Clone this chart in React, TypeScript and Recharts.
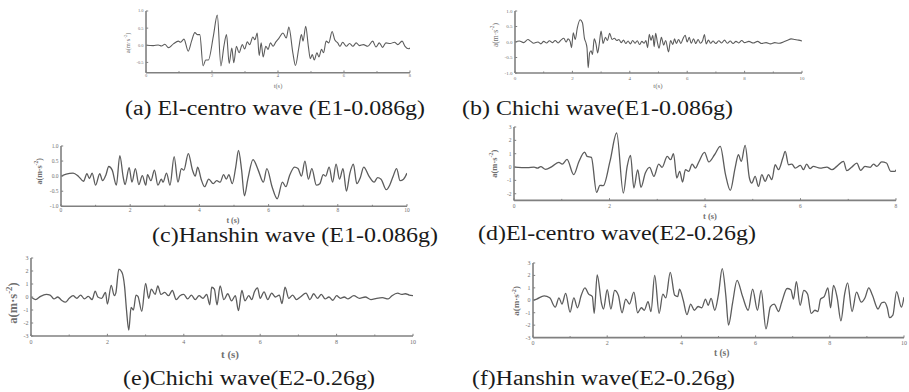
import React from 'react';
import { LineChart, Line, XAxis, YAxis, Label } from 'recharts';

// ---------- data: [time (s), acceleration (m/s^2)] ----------
const elCentroE1: [number, number][] = [
  [0, 0], [0.22, -0.01], [0.37, 0.01], [0.47, -0.02], [0.57, 0.03], [0.68, -0.07], [0.83, 0.04], [0.98, 0.12],
  [1.05, 0.09], [1.15, 0.18], [1.28, -0.17], [1.38, 0.12], [1.48, 0.37], [1.56, 0.31], [1.63, 0.31], [1.73, -0.6],
  [1.81, -0.43], [1.89, -0.43], [2.04, 0.26], [2.16, 0.88], [2.27, -0.6], [2.36, -0.03], [2.44, 0.31], [2.52, -0.53],
  [2.6, -0.08], [2.66, -0.51], [2.74, -0.03], [2.82, -0.22], [2.92, 0.02], [2.99, -0.11], [3.07, 0.1], [3.14, 0.02],
  [3.24, 0.24], [3.3, 0.16], [3.37, 0.36], [3.43, -0.3], [3.49, 0.07], [3.55, -0.34], [3.63, -0.03], [3.7, -0.12],
  [3.77, 0.07], [3.85, -0.03], [3.93, 0.09], [4.03, 0.21], [4.15, 0.36], [4.25, 0.21], [4.33, 0.53], [4.45, -0.22],
  [4.53, -0.59], [4.63, -0.08], [4.71, 0.31], [4.76, 0.12], [4.84, 0.55], [4.92, -0.03], [4.98, -0.39], [5.04, -0.27],
  [5.1, -0.43], [5.18, -0.22], [5.24, -0.34], [5.32, -0.12], [5.38, -0.22], [5.46, 0.12], [5.54, 0.07], [5.64, 0.4],
  [5.72, 0.16], [5.81, 0.07], [5.88, -0.03], [5.96, 0.09], [6.07, -0.03], [6.17, 0.05], [6.27, -0.03], [6.37, 0.07],
  [6.47, -0.01], [6.59, 0.02], [6.72, -0.03], [6.87, 0.12], [6.97, -0.05], [7.07, 0.07], [7.17, -0.06], [7.27, 0.07],
  [7.4, 0.05], [7.53, 0.09], [7.63, 0.02], [7.76, 0.12], [7.85, -0.03], [7.96, -0.1], [8.0, -0.08],
];

const chichiE1: [number, number][] = [
  [0, 0], [0.15, 0.03], [0.3, -0.02], [0.45, 0.08], [0.55, 0.02], [0.65, -0.04], [0.8, 0], [0.9, -0.06], [1.0, 0.02],
  [1.1, -0.03], [1.2, 0.04], [1.3, -0.02], [1.4, 0.05], [1.5, -0.03], [1.6, 0.06], [1.7, 0.12], [1.78, 0], [1.85, 0.1],
  [1.92, 0.02], [1.97, -0.18], [2.03, 0.3], [2.1, 0.08], [2.17, 0.45], [2.27, 0.72], [2.35, 0.62], [2.42, 0.12],
  [2.48, -0.05], [2.51, -0.2], [2.55, -0.83], [2.6, -0.35], [2.65, -0.28], [2.7, -0.4], [2.76, 0.1], [2.82, -0.05],
  [2.88, -0.35], [2.93, -0.1], [3.0, 0.35], [3.07, -0.05], [3.15, 0.15], [3.22, 0.05], [3.3, 0.28], [3.38, 0.08],
  [3.46, 0.12], [3.55, 0.05], [3.62, 0.08], [3.7, -0.02], [3.78, 0.06], [3.86, -0.05], [3.94, 0.03], [4.02, -0.06],
  [4.1, 0.05], [4.18, -0.04], [4.26, 0.04], [4.34, -0.08], [4.42, 0.02], [4.5, -0.04], [4.56, 0.05], [4.62, -0.18],
  [4.68, 0.25], [4.74, 0.05], [4.8, 0.22], [4.85, -0.15], [4.9, 0.28], [4.96, 0], [5.02, -0.2], [5.1, 0.15],
  [5.18, -0.1], [5.25, 0.05], [5.35, -0.32], [5.42, 0.05], [5.5, -0.08], [5.56, 0.1], [5.62, -0.05], [5.7, 0.08],
  [5.78, -0.05], [5.85, 0.1], [5.93, 0.22], [6.0, 0], [6.07, 0.15], [6.14, -0.04], [6.22, 0.1], [6.3, -0.05],
  [6.38, 0.08], [6.46, -0.04], [6.54, 0.05], [6.6, 0.24], [6.66, -0.06], [6.74, 0.06], [6.82, -0.04], [6.9, 0.03],
  [7.0, -0.05], [7.1, 0.04], [7.2, -0.03], [7.3, 0.06], [7.4, -0.04], [7.5, 0.03], [7.6, -0.05], [7.7, 0.02],
  [7.8, -0.03], [7.9, 0.05], [8.0, -0.02], [8.15, 0.02], [8.3, -0.03], [8.45, 0.02], [8.6, -0.05], [8.75, -0.02],
  [8.9, -0.06], [9.05, -0.02], [9.2, -0.04], [9.35, 0], [9.5, 0.06], [9.62, 0.1], [9.75, 0.08], [9.88, 0.06], [10, 0.03],
];

const hanshinE1: [number, number][] = [
  [0, 0], [0.15, 0.07], [0.35, 0.1], [0.5, 0], [0.65, -0.17], [0.75, 0.08], [0.82, -0.08], [0.9, 0.1], [1.0, -0.3],
  [1.12, 0.08], [1.2, -0.15], [1.3, 0.05], [1.38, 0.32], [1.48, 0.2], [1.6, -0.3], [1.7, 0.68], [1.8, -0.05],
  [1.85, -0.28], [1.97, 0.28], [2.05, -0.2], [2.15, 0.25], [2.25, -0.28], [2.35, 0.02], [2.45, -0.3], [2.5, 0.05],
  [2.6, -0.15], [2.7, 0.2], [2.8, -0.3], [2.9, -0.1], [2.95, -0.2], [3.05, 0.1], [3.15, -0.3], [3.27, 0.65],
  [3.38, -0.2], [3.48, 0.25], [3.55, 0.2], [3.68, 0.75], [3.8, 0.2], [3.88, 0], [3.95, 0.3], [4.05, -0.1],
  [4.15, -0.35], [4.27, -0.1], [4.4, -0.25], [4.5, -0.15], [4.6, -0.2], [4.7, 0.05], [4.78, -0.1], [4.85, 0.05],
  [4.95, -0.25], [5.05, 0.3], [5.13, 0.85], [5.22, 0.2], [5.3, -0.65], [5.4, -0.1], [5.55, 0.55], [5.7, 0.2],
  [5.85, -0.2], [5.95, 0.25], [6.1, -0.35], [6.25, -0.75], [6.4, -0.2], [6.5, -0.35], [6.6, 0], [6.75, 0.3],
  [6.85, 0.25], [6.95, 0], [7.05, 0.5], [7.15, -0.1], [7.25, 0.25], [7.38, -0.3], [7.48, -0.25], [7.58, 0.05],
  [7.65, 0], [7.75, 0.3], [7.85, -0.2], [7.95, 0.4], [8.05, -0.1], [8.15, 0.25], [8.25, -0.5], [8.35, 0.1],
  [8.45, 0.4], [8.55, -0.25], [8.65, -0.05], [8.75, 0.3], [8.9, 0], [9.05, -0.2], [9.15, -0.05], [9.25, -0.1],
  [9.4, -0.45], [9.5, -0.3], [9.6, 0], [9.7, 0.25], [9.8, -0.15], [9.9, -0.1], [10, 0.1],
];

const elCentroE2: [number, number][] = [
  [0, 0], [0.28, -0.05], [0.42, 0], [0.49, -0.08], [0.56, 0.03], [0.66, -0.17], [0.8, 0.05], [0.94, 0.35],
  [1.01, 0.22], [1.11, 0.57], [1.25, -0.57], [1.36, 0.42], [1.48, 1.12], [1.53, 0.8], [1.62, 0.72], [1.73, -1.9],
  [1.8, -1.37], [1.87, -1.4], [2.01, 0.42], [2.15, 2.55], [2.29, -1.95], [2.37, 0.05], [2.44, 0.87], [2.51, -1.57],
  [2.59, -0.22], [2.66, -1.52], [2.75, -0.45], [2.84, -0.02], [2.93, -0.7], [3.03, 0.22], [3.1, -0.02], [3.21, 0.8],
  [3.28, 0.55], [3.34, 1.0], [3.41, -0.82], [3.47, -0.32], [3.53, -1.12], [3.59, -0.2], [3.66, -0.32], [3.73, 0.22],
  [3.8, -0.08], [3.87, 0.38], [3.99, 1.1], [4.08, 0.38], [4.2, 0.92], [4.32, 1.55], [4.43, -0.57], [4.53, -1.75],
  [4.63, -0.08], [4.7, 0.92], [4.76, 0.42], [4.84, 1.62], [4.93, -0.82], [4.98, -1.2], [5.05, -0.7], [5.12, -1.45],
  [5.19, -0.57], [5.26, -1.07], [5.33, -0.57], [5.4, -0.95], [5.47, 0.17], [5.54, -0.2], [5.63, 0.67], [5.68, 1.17],
  [5.75, 0.17], [5.82, 0.22], [5.89, -0.08], [6.0, 0.12], [6.06, -0.2], [6.13, 0.22], [6.2, -0.12], [6.27, 0.05],
  [6.41, -0.08], [6.55, 0], [6.66, -0.2], [6.76, 0.05], [6.9, 0.42], [6.97, -0.27], [7.07, -0.02], [7.18, 0.3],
  [7.26, -0.25], [7.35, 0.05], [7.46, -0.02], [7.53, 0.22], [7.6, 0.05], [7.7, 0.38], [7.8, 0.3], [7.89, -0.32],
  [7.98, -0.32], [8.0, -0.2],
];

const chichiE2: [number, number][] = [
  [0, 0], [0.12, -0.2], [0.25, 0.05], [0.4, 0.2], [0.5, 0.15], [0.6, -0.15], [0.7, 0], [0.8, -0.25], [0.9, -0.4],
  [1.0, -0.1], [1.1, 0.1], [1.2, -0.1], [1.3, 0.15], [1.4, -0.15], [1.5, 0.05], [1.6, -0.2], [1.68, 0.45], [1.75, 0],
  [1.85, -0.1], [1.95, 0.35], [2.0, -0.55], [2.1, 0.9], [2.18, 0.1], [2.22, 0.3], [2.3, 2.15], [2.38, 1.9],
  [2.45, 0.8], [2.5, -1.0], [2.56, -2.55], [2.62, -0.8], [2.68, -1.0], [2.75, 0.15], [2.8, 0.05], [2.9, -1.1],
  [3.0, 1.05], [3.08, -0.1], [3.15, 0.6], [3.25, 0.2], [3.32, 0.85], [3.4, 0.2], [3.5, 0.35], [3.6, 0.1], [3.7, 0.5],
  [3.8, -0.2], [3.9, 0.1], [4.0, 0.2], [4.1, -0.15], [4.2, 0.15], [4.3, -0.2], [4.4, 0.1], [4.5, -0.1], [4.6, 0.2],
  [4.68, -0.6], [4.73, 0.75], [4.8, 0.6], [4.87, -0.6], [4.95, 0.85], [5.05, -0.2], [5.15, 0.25], [5.25, -0.3],
  [5.35, 0.1], [5.43, -1.05], [5.52, 0.5], [5.6, -0.3], [5.7, 0.1], [5.78, -0.2], [5.85, 0.4], [5.93, 0.7],
  [6.0, -0.1], [6.1, 0.4], [6.2, -0.2], [6.3, 0.3], [6.4, 0], [6.5, 0.15], [6.57, -0.5], [6.65, 0.75], [6.75, -0.1],
  [6.85, 0.15], [6.95, -0.2], [7.05, 0], [7.2, 0.3], [7.3, -0.2], [7.4, 0.25], [7.5, -0.1], [7.6, 0.2], [7.7, -0.15],
  [7.8, 0], [7.9, -0.25], [8.0, 0.1], [8.1, -0.1], [8.2, 0], [8.3, -0.15], [8.45, 0.1], [8.6, -0.1], [8.75, 0],
  [8.9, -0.2], [9.05, -0.1], [9.2, -0.05], [9.35, -0.15], [9.45, 0.1], [9.6, 0.3], [9.7, 0.2], [9.8, 0.25],
  [9.9, 0.15], [10, 0.1],
];

const hanshinE2: [number, number][] = [
  [0, 0], [0.1, 0.1], [0.3, 0.35], [0.45, 0.2], [0.6, -0.55], [0.7, 0.2], [0.78, -0.3], [0.88, 0.55], [1.0, -0.95],
  [1.1, 0.2], [1.2, -0.6], [1.3, 0.4], [1.4, 1.0], [1.5, 0.5], [1.6, 0.3], [1.65, -1.05], [1.73, 2.05], [1.85, -0.3],
  [1.9, -0.7], [2.0, 0.85], [2.1, -0.7], [2.2, 0.8], [2.3, 0.4], [2.4, -1.0], [2.5, 0.1], [2.6, -0.3], [2.72, 0.65],
  [2.82, -1.0], [2.92, -0.6], [3.0, -0.8], [3.1, -0.1], [3.18, -0.9], [3.28, 2.0], [3.4, -1.05], [3.5, 0.5],
  [3.58, 0.2], [3.7, 2.25], [3.82, 0.4], [3.9, 0.3], [3.95, 0.9], [4.05, 0], [4.15, -1.15], [4.25, -0.3],
  [4.35, -0.8], [4.45, -0.5], [4.55, -0.6], [4.65, 0.1], [4.72, -0.4], [4.8, 0.15], [4.9, -0.8], [5.0, 0.5],
  [5.1, 2.55], [5.2, 0.3], [5.27, -2.0], [5.38, -0.2], [5.5, 1.6], [5.65, 0.3], [5.8, -0.8], [5.92, 0.9],
  [6.05, -0.8], [6.15, 0.8], [6.28, -2.3], [6.4, -0.5], [6.5, -0.3], [6.62, -0.9], [6.7, -0.2], [6.85, 0.95],
  [6.95, 0.85], [7.02, 0.1], [7.1, 1.5], [7.2, -0.4], [7.3, 0.8], [7.4, 0.5], [7.5, -1.05], [7.6, -0.8],
  [7.68, -0.9], [7.75, 0.1], [7.85, 0.3], [7.95, 1.0], [8.02, -0.6], [8.1, 1.2], [8.2, 0.2], [8.3, -1.65],
  [8.4, 0.5], [8.48, 1.4], [8.6, -0.9], [8.72, 0.65], [8.85, -0.15], [8.95, 0.2], [9.05, 1.0], [9.15, 0.4],
  [9.3, -0.7], [9.4, -0.2], [9.47, -0.15], [9.55, -0.6], [9.61, -1.4], [9.7, -1.2], [9.8, 0.7], [9.93, -0.55],
  [10, 0.25],
];

// ---------- tick values ----------
const xMajor8 = [0, 2, 4, 6, 8];
const xMinor8 = [1, 3, 5, 7];
const xMajor10 = [0, 2, 4, 6, 8, 10];
const xMinor10 = [1, 3, 5, 7, 9];
const yTicksA = [1, 0.5, 0, -0.5];
const yTicksB = [1, 0.5, 0, -0.5, -1];
const yTicksD = [3, 2, 1, 0, -1, -2];
const yTicksE = [3, 2, 1, 0, -1, -2, -3];

const captions = [
  '(a) El-centro wave (E1-0.086g)',
  '(b) Chichi wave(E1-0.086g)',
  '(c)Hanshin wave (E1-0.086g)',
  '(d)El-centro wave(E2-0.26g)',
  '(e)Chichi wave(E2-0.26g)',
  '(f)Hanshin wave(E2-0.26g)',
];

// ---------- styling ----------
const AX = '#808080';
const LINE = '#5c5c5c';
const TXT = '#707070';
const SERIF = '"Liberation Serif", "DejaVu Serif", serif';

type Cfg = {
  x0: number; x1: number; y0: number; y1: number;
  xMax: number; yMin: number; yMax: number;
  yTicks: number[]; yDec: number;
  xMajor: number[]; xMinor: number[];
  tickFont: number; xTickY: number;
  yLab: { x: number; y: number; s: number };
  xLab: { x: number; y: number; s: number; text: string };
  bold: boolean; lw: number;
};

const cfgs: Cfg[] = [
  { x0: 146, x1: 410, y0: 11, y1: 72.7, xMax: 8, yMin: -0.8, yMax: 1, yTicks: yTicksA, yDec: 1,
    xMajor: xMajor8, xMinor: xMinor8, tickFont: 4.5, xTickY: 76,
    yLab: { x: 127, y: 43, s: 6.5 }, xLab: { x: 278, y: 86, s: 6.5, text: 't(s)' }, bold: false, lw: 1.1 },
  { x0: 515, x1: 802, y0: 11, y1: 73, xMax: 10, yMin: -1, yMax: 1, yTicks: yTicksB, yDec: 1,
    xMajor: xMajor10, xMinor: xMinor10, tickFont: 5, xTickY: 78,
    yLab: { x: 495, y: 35, s: 7.5 }, xLab: { x: 658, y: 86, s: 7, text: 't(s)' }, bold: false, lw: 1.1 },
  { x0: 61, x1: 407, y0: 145.7, y1: 206, xMax: 10, yMin: -1, yMax: 1, yTicks: yTicksB, yDec: 1,
    xMajor: xMajor10, xMinor: xMinor10, tickFont: 5.5, xTickY: 210,
    yLab: { x: 39.3, y: 171, s: 8 }, xLab: { x: 233, y: 220, s: 8, text: 't (s)' }, bold: true, lw: 1.3 },
  { x0: 514, x1: 896, y0: 127.3, y1: 200.7, xMax: 8, yMin: -2.5, yMax: 3, yTicks: yTicksD, yDec: 0,
    xMajor: xMajor8, xMinor: xMinor8, tickFont: 5.5, xTickY: 206,
    yLab: { x: 494, y: 164, s: 8.5 }, xLab: { x: 710, y: 216.7, s: 8.5, text: 't (s)' }, bold: true, lw: 1.3 },
  { x0: 31, x1: 413, y0: 258, y1: 336, xMax: 10, yMin: -3, yMax: 3, yTicks: yTicksE, yDec: 0,
    xMajor: xMajor10, xMinor: xMinor10, tickFont: 6, xTickY: 341.7,
    yLab: { x: 13.3, y: 303, s: 12.5 }, xLab: { x: 230, y: 353.7, s: 11, text: 't (s)' }, bold: true, lw: 1.3 },
  { x0: 533, x1: 904, y0: 262.7, y1: 337.3, xMax: 10, yMin: -3, yMax: 3, yTicks: yTicksE, yDec: 0,
    xMajor: xMajor10, xMinor: xMinor10, tickFont: 6, xTickY: 342.3,
    yLab: { x: 516, y: 300.6, s: 9 }, xLab: { x: 721.7, y: 352.3, s: 9.5, text: 't (s)' }, bold: true, lw: 1.3 },
];

const seriesList = [elCentroE1, chichiE1, hanshinE1, elCentroE2, chichiE2, hanshinE2];

const captionPos = [
  { x: 125, y: 114.5, w: 300 },
  { x: 462, y: 114.5, w: 271 },
  { x: 152, y: 242, w: 286 },
  { x: 478, y: 240, w: 278 },
  { x: 123, y: 384.5, w: 252 },
  { x: 472, y: 384.5, w: 263 },
];

function Panel({ cfg, series }: { cfg: Cfg; series: [number, number][] }) {
  const YW = 40, MT = 4, MR = 4, XH = 30;
  const W = YW + (cfg.x1 - cfg.x0) + MR;
  const H = MT + (cfg.y1 - cfg.y0) + XH;
  const left = cfg.x0 - YW;
  const top = cfg.y0 - MT;
  const data = series.map(([t, a]) => ({ t, a }));
  const xTicks = [...cfg.xMajor, ...cfg.xMinor].sort((p, q) => p - q);
  const fw = cfg.bold ? 'bold' : 'normal';

  const renderXTick = (p: any) => {
    const v = p.payload.value;
    const major = cfg.xMajor.includes(v);
    return (
      <g>
        <line x1={p.x} x2={p.x} y1={p.y} y2={p.y - (major ? 2.2 : 1.5)} stroke={AX} strokeWidth={1} />
        {major && (
          <text x={p.x} y={p.y + (cfg.xTickY - cfg.y1)} textAnchor="middle" dominantBaseline="central"
            fontSize={cfg.tickFont} fill={TXT} fontFamily={SERIF}>{String(v)}</text>
        )}
      </g>
    );
  };
  const renderYTick = (p: any) => {
    const v = p.payload.value;
    return (
      <g>
        <line x1={p.x} x2={p.x + 2.2} y1={p.y} y2={p.y} stroke={AX} strokeWidth={1} />
        <text x={p.x - 2.5} y={p.y} textAnchor="end" dominantBaseline="central"
          fontSize={cfg.tickFont} fill={TXT} fontFamily={SERIF}>{Number(v).toFixed(cfg.yDec)}</text>
      </g>
    );
  };
  const xTitle = () => (
    <text x={cfg.xLab.x - left} y={cfg.xLab.y - top} textAnchor="middle" dominantBaseline="central"
      fontSize={cfg.xLab.s} fill={TXT} fontFamily={SERIF} fontWeight={fw}>{cfg.xLab.text}</text>
  );
  const yTitle = () => {
    const x = cfg.yLab.x - left, y = cfg.yLab.y - top, s = cfg.yLab.s;
    return (
      <text x={x} y={y} transform={`rotate(-90 ${x} ${y})`} textAnchor="middle" dominantBaseline="central"
        fontSize={s} fill={TXT} fontFamily={SERIF} fontWeight={fw}>
        a(m·s<tspan dy={-s * 0.35} fontSize={s * 0.7}>-2</tspan><tspan dy={s * 0.35}>)</tspan>
      </text>
    );
  };

  return (
    <div style={{ position: 'absolute', left, top, width: W, height: H }}>
      <LineChart width={W} height={H} data={data} margin={{ top: MT, right: MR, bottom: 0, left: 0 }}>
        <XAxis dataKey="t" type="number" domain={[0, cfg.xMax]} ticks={xTicks} interval={0} height={XH}
          tickSize={0} tickMargin={0} tickLine={false} axisLine={{ stroke: AX, strokeWidth: 1.6 }}
          tick={renderXTick} allowDataOverflow>
          <Label content={xTitle} />
        </XAxis>
        <YAxis type="number" domain={[cfg.yMin, cfg.yMax]} ticks={cfg.yTicks} interval={0} width={YW}
          tickSize={0} tickMargin={0} tickLine={false} axisLine={{ stroke: AX, strokeWidth: 1.6 }}
          tick={renderYTick} allowDataOverflow>
          <Label content={yTitle} />
        </YAxis>
        <Line type="monotone" dataKey="a" stroke={LINE} strokeWidth={cfg.lw} dot={false}
          isAnimationActive={false} />
      </LineChart>
    </div>
  );
}

export default function App() {
  return (
    <div style={{ position: 'absolute', left: 0, top: 0, width: 909, height: 392, background: '#fff', overflow: 'hidden' }}>
      {cfgs.map((c, i) => (
        <Panel key={i} cfg={c} series={seriesList[i]} />
      ))}
      <svg width={909} height={392} style={{ position: 'absolute', left: 0, top: 0, pointerEvents: 'none' }}>
        {captions.map((t, i) => (
          <text key={i} x={captionPos[i].x} y={captionPos[i].y} fontSize={20} fontFamily={SERIF} fill="#1a1a1a"
            textLength={captionPos[i].w} lengthAdjust="spacingAndGlyphs">{t}</text>
        ))}
      </svg>
    </div>
  );
}
